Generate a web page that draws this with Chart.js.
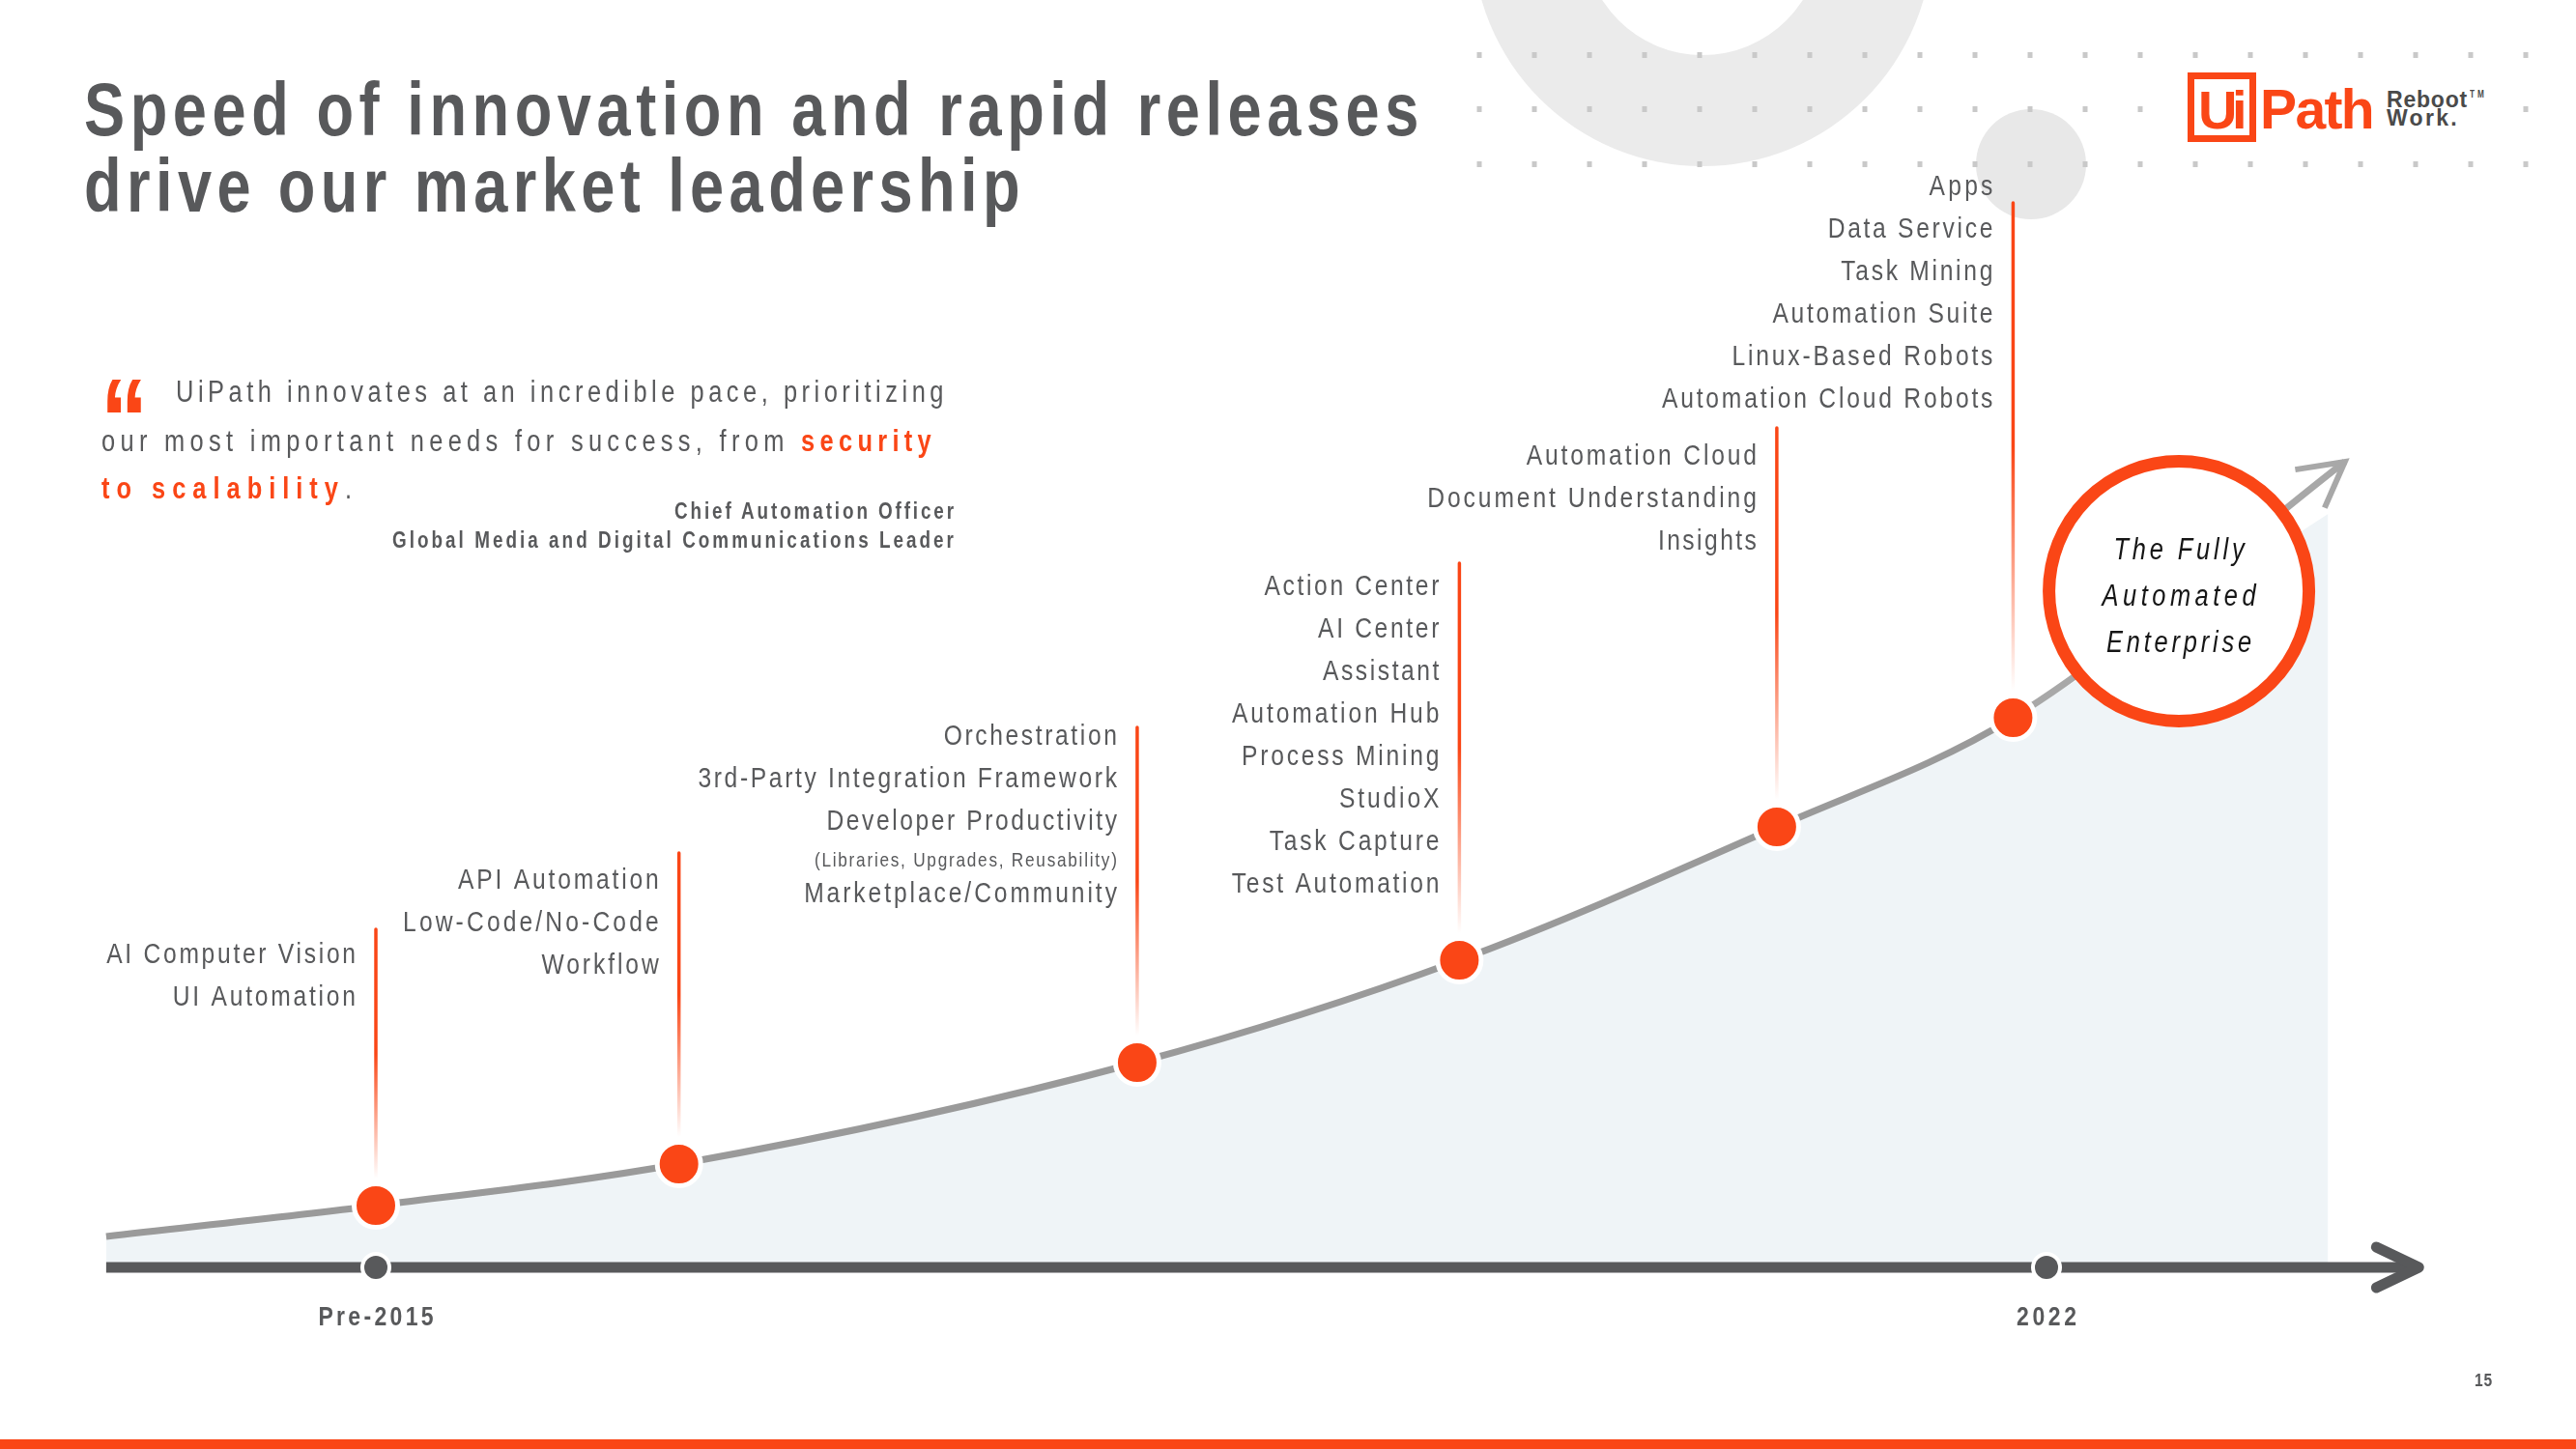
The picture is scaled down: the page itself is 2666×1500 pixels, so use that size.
<!DOCTYPE html>
<html>
<head>
<meta charset="utf-8">
<title>Speed of innovation and rapid releases drive our market leadership</title>
<script src="https://cdn.jsdelivr.net/npm/chart.js@4.4.1/dist/chart.umd.min.js"></script>
<style>
  html, body { margin: 0; padding: 0; background: #fff; }
  #stage { position: relative; width: 2666px; height: 1500px; overflow: hidden; background: #fff; }
  #c { position: absolute; left: 0; top: 0; }
  .t { position: absolute; white-space: nowrap; display: inline-block; color: #58595b; transform-origin: 0 0; }
  .b { font-weight: bold; }
  .o { color: #fa4616; }
  #logoBg { position: absolute; left: 2258px; top: 70px; width: 332px; height: 86px; background: #fff; }
  #uiBox { position: absolute; left: 2264px; top: 75px; width: 71px; height: 72px; border: 7px solid #fa4616; box-sizing: border-box; }
  #bottomBar { position: absolute; left: 0; top: 1490px; width: 2666px; height: 10px; background: #fa4616; }
</style>
</head>
<body>
<div id="stage">
  <canvas id="c" width="2666" height="1500"></canvas>

  <div class="t b" data-x="87" data-base="140" data-size="77" data-w="1387">Speed of innovation and rapid releases</div>
  <div class="t b" data-x="87" data-base="219" data-size="77" data-w="974">drive our market leadership</div>

  <div class="t b o" data-x="104" data-base="476" data-size="120" data-w="46">&#8220;</div>
  <div class="t" data-x="182" data-base="416" data-size="31" data-w="799">UiPath innovates at an incredible pace, prioritizing</div>
  <div class="t" data-x="105" data-base="467" data-size="31" data-w="864">our most important needs for success, from <span class="b o">security</span></div>
  <div class="t" data-x="105" data-base="516" data-size="31" data-w="266"><span class="b o">to scalability</span>.</div>
  <div class="t b" data-x="990" data-align="right" data-base="537" data-size="23" data-w="292">Chief Automation Officer</div>
  <div class="t b" data-x="990" data-align="right" data-base="567" data-size="23" data-w="584">Global Media and Digital Communications Leader</div>

  <div id="logoBg"></div>
  <div id="uiBox"></div>
  <div class="t b o" data-x="2275" data-base="133" data-size="56" data-w="45" data-k="1">Ui</div>
  <div class="t b o" data-x="2339" data-base="133" data-size="57" data-w="117" data-k="1">Path</div>
  <div class="t b" style="color:#4a4a4a" data-x="2470" data-base="111" data-size="23" data-w="84" data-k="1">Reboot</div>
  <div class="t b" style="color:#4a4a4a" data-x="2556" data-base="101" data-size="10" data-w="18">TM</div>
  <div class="t b" style="color:#4a4a4a" data-x="2470" data-base="130" data-size="23" data-w="75" data-k="1">Work.</div>

  <div class="t b" data-x="2580" data-align="right" data-base="1435" data-size="19" data-w="19">15</div>
  <div id="bottomBar"></div>
</div>

<script>
// ---------------- DATA ----------------
// Release milestones along the timeline (x: timeline position, 0 = Pre-2015, 7 = 2022)
const releaseX = [0, 1.27, 3.19, 4.54, 5.87, 6.86];
// Height of the innovation curve at each milestone
const releaseY = [6.4, 10.7, 21.2, 31.8, 45.6, 56.9];
// Where the innovation curve starts and where its arrow ends
const curveStart = { x: -1.13, y: 3.2 };
const curveEnd = { x: 8.25, y: 83.4 };
// Where the shaded area under the curve stops
const areaEnd = { x: 8.18, y: 78.0 };
// Timeline ticks
const tickValues = [0, 7];
const tickLabels = ['Pre-2015', '2022'];
// Products released at each milestone
const releaseFeatures = [
  ['AI Computer Vision', 'UI Automation'],
  ['API Automation', 'Low-Code/No-Code', 'Workflow'],
  ['Orchestration', '3rd-Party Integration Framework', 'Developer Productivity', '(Libraries, Upgrades, Reusability)', 'Marketplace/Community'],
  ['Action Center', 'AI Center', 'Assistant', 'Automation Hub', 'Process Mining', 'StudioX', 'Task Capture', 'Test Automation'],
  ['Automation Cloud', 'Document Understanding', 'Insights'],
  ['Apps', 'Data Service', 'Task Mining', 'Automation Suite', 'Linux-Based Robots', 'Automation Cloud Robots']
];
const goalText = ['The Fully', 'Automated', 'Enterprise'];
const goalPos = { x: 7.555, y: 70.0 };

// ---------------- LAYOUT / STYLE ----------------
const ORANGE = '#fa4616';
const GREY_TEXT = '#58595b';
const LAYOUT = {
  stemTop: [962, 883, 753, 583, 443, 210],
  labelBase: [997, 920, 771, 616, 481, 202],
  labelGap: 21,
  lineStep: 44,
  smallStep: 37.5,
  goalR: 134.5,
  goalStroke: 13,
  goalFirstBase: -33,
  goalStep: 48,
  axisFrom: -1.13,
  axisTo: 8.56,
  tickLabelBase: 1372
};

const NARROW = (() => {
  const c = document.createElement('canvas').getContext('2d');
  const s = 'Automation Cloud Robots 123';
  c.font = '40px monospace'; const m = c.measureText(s).width;
  c.font = '40px "Liberation Sans Narrow", monospace'; const n = c.measureText(s).width;
  return Math.abs(m - n) > 1;
})();
const FAM_REG = '"Liberation Sans", Arial, sans-serif';
const FAM = NARROW ? '"Liberation Sans Narrow", "Liberation Sans", Arial, sans-serif' : FAM_REG;
// glyph condensation (emulates a narrow face with wide tracking)
const K = NARROW ? 1 : 0.82;

// ---------------- HTML TEXT PLACEMENT ----------------
document.querySelectorAll('.t').forEach(el => {
  const F = +el.dataset.size;
  const k = el.dataset.k ? +el.dataset.k : K;
  el.style.fontFamily = k === 1 ? FAM_REG : FAM;
  el.style.fontSize = F + 'px';
  el.style.lineHeight = F + 'px';
  el.style.letterSpacing = '0px';
  el.style.transform = 'none';
  const w0 = el.getBoundingClientRect().width;
  const n = [...el.textContent].length;
  const target = el.dataset.w ? +el.dataset.w : w0 * k;
  el.style.letterSpacing = ((target / k - w0) / n) + 'px';
  el.style.transform = `scaleX(${k})`;
  let x = +el.dataset.x;
  if (el.dataset.align === 'right') x -= target;
  else if (el.dataset.align === 'center') x -= target / 2;
  el.style.left = x + 'px';
  el.style.top = (+el.dataset.base - 0.8465 * F) + 'px';
});

// ---------------- CANVAS HELPERS ----------------
function drawText(ctx, text, x, y, size, style, align, color, extraFrac) {
  ctx.save();
  const hasLS = 'letterSpacing' in ctx;
  if (hasLS) ctx.letterSpacing = '0px';
  ctx.font = `${style} ${size}px ${FAM}`;
  ctx.fillStyle = color;
  ctx.textBaseline = 'alphabetic';
  if (!hasLS) {
    ctx.textAlign = align;
    ctx.fillText(text, x, y);
    ctx.restore();
    return;
  }
  ctx.font = `${style} ${size}px ${FAM_REG}`;
  const wr = ctx.measureText(text).width * (1 + (extraFrac || 0));
  ctx.font = `${style} ${size}px ${FAM}`;
  const w = ctx.measureText(text).width;
  const n = text.length;
  const total = wr / K;
  const ls = (total - w) / n;
  ctx.translate(x, y);
  ctx.scale(K, 1);
  ctx.letterSpacing = ls + 'px';
  ctx.textAlign = 'left';
  let sx = 0;
  if (align === 'right') sx = -total + ls;
  else if (align === 'center') sx = -(total - ls) / 2;
  ctx.fillText(text, sx, 0);
  ctx.restore();
}

const decorPlugin = {
  id: 'decor',
  beforeDraw(chart) {
    const ctx = chart.ctx;
    ctx.save();
    ctx.fillStyle = '#ffffff';
    ctx.fillRect(0, 0, chart.width, chart.height);
    // big ring
    ctx.beginPath();
    ctx.arc(1762, -66, 238, 0, Math.PI * 2);
    ctx.arc(1762, -66, 123, 0, Math.PI * 2, true);
    ctx.fillStyle = '#ebebeb';
    ctx.fill('evenodd');
    // small disc
    ctx.beginPath();
    ctx.arc(2102, 170, 57, 0, Math.PI * 2);
    ctx.fillStyle = '#e8e8e8';
    ctx.fill();
    // dot grid
    ctx.fillStyle = '#c9c9c9';
    [57, 113, 170].forEach(y => {
      for (let k = 0; k < 20; k++) ctx.fillRect(1531 + 57 * k - 2.5, y - 3, 5, 6);
    });
    ctx.restore();
  },
  beforeDatasetsDraw(chart) {
    const ctx = chart.ctx, xs = chart.scales.x, ys = chart.scales.y;
    releaseX.forEach((v, i) => {
      const px = xs.getPixelForValue(v);
      const py = ys.getPixelForValue(releaseY[i]);
      const top = LAYOUT.stemTop[i], bottom = py - 28;
      const g = ctx.createLinearGradient(0, top, 0, bottom);
      g.addColorStop(0, ORANGE);
      g.addColorStop(0.5, ORANGE);
      g.addColorStop(1, 'rgba(250,70,22,0)');
      ctx.save();
      ctx.strokeStyle = g;
      ctx.lineWidth = 3.5;
      ctx.lineCap = 'round';
      ctx.beginPath();
      ctx.moveTo(px, top);
      ctx.lineTo(px, bottom);
      ctx.stroke();
      ctx.restore();
      // feature labels
      let base = LAYOUT.labelBase[i];
      releaseFeatures[i].forEach((txt, j) => {
        const small = txt.startsWith('(');
        if (j > 0) base += (small || releaseFeatures[i][j - 1].startsWith('(')) ? LAYOUT.smallStep : LAYOUT.lineStep;
        drawText(ctx, txt, px - LAYOUT.labelGap, base, small ? 21 : 30, 'normal', 'right', GREY_TEXT, 0.01);
      });
    });
  },
  afterDatasetsDraw(chart) {
    const ctx = chart.ctx, xs = chart.scales.x, ys = chart.scales.y;
    const y0 = ys.getPixelForValue(0);
    const xa = xs.getPixelForValue(LAYOUT.axisFrom), xb = xs.getPixelForValue(LAYOUT.axisTo);
    ctx.save();
    // timeline axis with arrow
    ctx.strokeStyle = GREY_TEXT;
    ctx.lineWidth = 11;
    ctx.lineCap = 'butt';
    ctx.beginPath(); ctx.moveTo(xa, y0); ctx.lineTo(xb - 4, y0); ctx.stroke();
    ctx.lineCap = 'round'; ctx.lineJoin = 'round';
    ctx.beginPath();
    ctx.moveTo(xb - 44, y0 - 21); ctx.lineTo(xb, y0); ctx.lineTo(xb - 44, y0 + 21);
    ctx.stroke();
    // tick dots and labels
    tickValues.forEach((v, i) => {
      const px = xs.getPixelForValue(v);
      ctx.beginPath(); ctx.arc(px, y0, 16, 0, Math.PI * 2); ctx.fillStyle = '#fff'; ctx.fill();
      ctx.beginPath(); ctx.arc(px, y0, 12, 0, Math.PI * 2); ctx.fillStyle = GREY_TEXT; ctx.fill();
      drawText(ctx, tickLabels[i], px, LAYOUT.tickLabelBase, 28, 'bold', 'center', GREY_TEXT, 0.05);
    });
    // goal circle
    const gx = xs.getPixelForValue(goalPos.x), gy = ys.getPixelForValue(goalPos.y);
    ctx.beginPath(); ctx.arc(gx, gy, LAYOUT.goalR, 0, Math.PI * 2);
    ctx.fillStyle = '#fff'; ctx.fill();
    ctx.lineWidth = LAYOUT.goalStroke; ctx.strokeStyle = ORANGE; ctx.stroke();
    goalText.forEach((t, i) => {
      drawText(ctx, t, gx, gy + LAYOUT.goalFirstBase + i * LAYOUT.goalStep, 31, 'italic', 'center', '#151515', 0.09);
    });
    // arrow head at the end of the curve
    const ex = xs.getPixelForValue(curveEnd.x), ey = ys.getPixelForValue(curveEnd.y);
    const lx = xs.getPixelForValue(releaseX[releaseX.length - 1]), ly = ys.getPixelForValue(releaseY[releaseY.length - 1]);
    const ang = Math.atan2(ey - ly, ex - lx);
    const back = ang + Math.PI, L = 52, spread = 0.5;
    ctx.strokeStyle = '#a8a8a8'; ctx.lineWidth = 6; ctx.lineCap = 'butt'; ctx.lineJoin = 'miter';
    ctx.beginPath();
    ctx.moveTo(ex + L * Math.cos(back - spread), ey + L * Math.sin(back - spread));
    ctx.lineTo(ex, ey);
    ctx.lineTo(ex + L * Math.cos(back + spread), ey + L * Math.sin(back + spread));
    ctx.stroke();
    ctx.restore();
  }
};

const milestonePts = releaseX.map((x, i) => ({ x, y: releaseY[i] }));
const curveData = [curveStart, ...milestonePts, curveEnd];
const areaData = [curveStart, ...milestonePts, areaEnd];
const lastSeg = curveData.length - 1;

new Chart(document.getElementById('c'), {
  type: 'line',
  data: {
    datasets: [
      {
        label: 'Releases',
        data: milestonePts,
        showLine: false,
        pointRadius: 22.5,
        pointHoverRadius: 22.5,
        pointBorderWidth: 5,
        pointBackgroundColor: ORANGE,
        pointBorderColor: '#ffffff',
        order: 0,
        clip: false
      },
      {
        label: 'Innovation',
        data: curveData,
        borderColor: '#9a9a9a',
        borderWidth: 7,
        cubicInterpolationMode: 'monotone',
        fill: false,
        pointRadius: 0,
        pointHoverRadius: 0,
        segment: { borderColor: c => c.p1DataIndex === lastSeg ? '#a8a8a8' : undefined },
        order: 1,
        clip: false
      },
      {
        label: 'Area',
        data: areaData,
        borderWidth: 0,
        borderColor: 'rgba(0,0,0,0)',
        cubicInterpolationMode: 'monotone',
        fill: 'origin',
        backgroundColor: '#eff4f7',
        pointRadius: 0,
        pointHoverRadius: 0,
        order: 2,
        clip: false
      }
    ]
  },
  options: {
    responsive: false,
    animation: false,
    events: [],
    layout: { autoPadding: false, padding: { left: 18.5, right: 54, top: 312, bottom: 188 } },
    scales: {
      x: { type: 'linear', min: -1.5, max: 9, display: false },
      y: { type: 'linear', min: 0, max: 100, display: false }
    },
    plugins: { legend: { display: false }, tooltip: { enabled: false } }
  },
  plugins: [decorPlugin]
});
</script>
</body>
</html>
